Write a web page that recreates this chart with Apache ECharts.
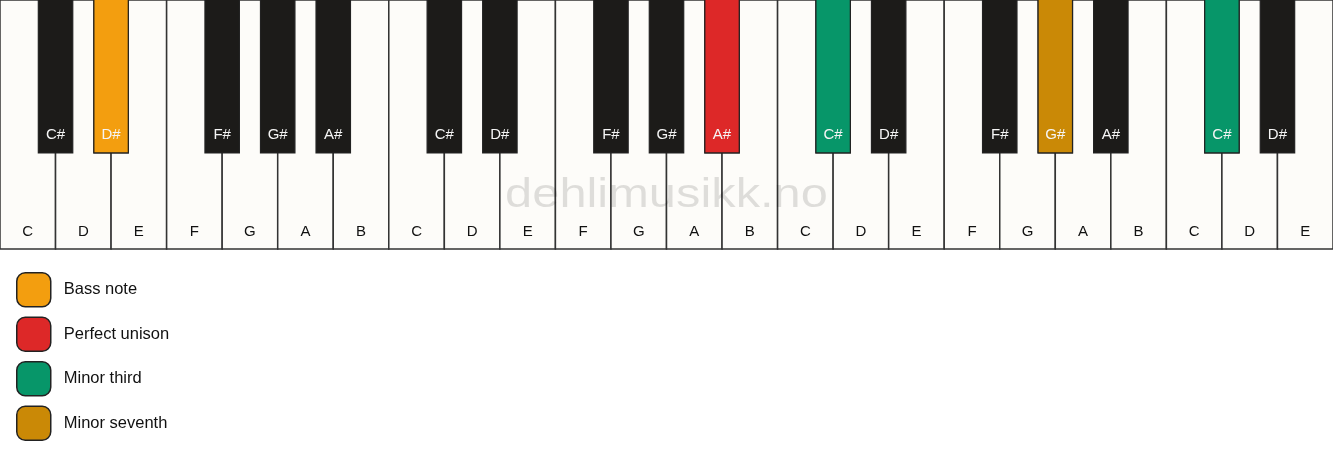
<!DOCTYPE html>
<html>
<head>
<meta charset="utf-8">
<script src="https://cdn.jsdelivr.net/npm/echarts@6/dist/echarts.min.js"></script>
<style>
  html, body { margin: 0; padding: 0; background: #ffffff; }
  #chart { width: 1333px; height: 461px; }
</style>
</head>
<body>
<div id="chart"></div>
<script>
// ---- data ----
const whiteNotes = ['C','D','E','F','G','A','B','C','D','E','F','G','A','B','C','D','E','F','G','A','B','C','D','E'];
const legendNames = ['Bass note', 'Perfect unison', 'Minor third', 'Minor seventh'];
// highlighted black keys: note name + octave number (0 = first octave on the keyboard)
const bassNoteKeys = ['D#0'];
const perfectUnisonKeys = ['A#1'];
const minorThirdKeys = ['C#2', 'C#3'];
const minorSeventhKeys = ['G#2'];
const watermark = 'dehlimusikk.no';

// derive black keys from white keys (a sharp follows every white key except E and B)
const blackKeys = [];
whiteNotes.forEach(function (n, i) {
  if (i < whiteNotes.length - 1 && n !== 'E' && n !== 'B') {
    blackKeys.push({ x: i + 1, note: n + '#', id: n + '#' + Math.floor(i / 7) });
  }
});

// ---- styles ----
const WHITE_FILL = '#fdfcf9';
const LINE = '#333333';
const BLACK_FILL = '#1c1b19';
const COLORS = ['#f39e0f', '#dd2828', '#079669', '#ca8906'];
const BLACK_W = 0.62;     // in white-key units
const BLACK_LEN = 0.614;  // fraction of key height
const FONT = '15px "Liberation Sans", Arial, sans-serif';

function whiteRender(params, api) {
  const i = api.value(0);
  const p0 = api.coord([i, 0]);
  const p1 = api.coord([i + 1, 1]);
  const pl = api.coord([i + 0.5, 0.93]);
  return {
    type: 'group',
    children: [
      { type: 'rect', shape: { x: p0[0], y: p0[1], width: p1[0] - p0[0], height: p1[1] - p0[1] },
        style: { fill: WHITE_FILL, stroke: LINE, lineWidth: 1.5 } },
      { type: 'text', style: { text: whiteNotes[params.dataIndex], x: pl[0], y: pl[1], fill: '#111',
        font: FONT, align: 'center', verticalAlign: 'middle' } }
    ]
  };
}

function blackRenderer(fill, keys) {
  return function (params, api) {
    const x = api.value(0);
    const p0 = api.coord([x - BLACK_W / 2, 0]);
    const p1 = api.coord([x + BLACK_W / 2, BLACK_LEN]);
    const pl = api.coord([x, 0.54]);
    return {
      type: 'group',
      children: [
        { type: 'rect', shape: { x: p0[0], y: p0[1] - 1, width: p1[0] - p0[0], height: p1[1] - p0[1] + 1 },
          style: { fill: fill, stroke: '#222', lineWidth: 1.2 } },
        { type: 'text', style: { text: keys[params.dataIndex].note, x: pl[0], y: pl[1], fill: '#f5f5f5',
          font: FONT, align: 'center', verticalAlign: 'middle' } }
      ]
    };
  };
}

function keysFor(ids) {
  return blackKeys.filter(function (k) { return ids.indexOf(k.id) >= 0; });
}

const highlightGroups = [bassNoteKeys, perfectUnisonKeys, minorThirdKeys, minorSeventhKeys];

const series = [
  { type: 'custom', name: 'white', renderItem: whiteRender, z: 1,
    data: whiteNotes.map(function (n, i) { return [i, 0]; }), silent: true },
  { type: 'custom', name: 'black', renderItem: blackRenderer(BLACK_FILL, blackKeys), z: 2, silent: true,
    data: blackKeys.map(function (k) { return [k.x, 0]; }) }
];
highlightGroups.forEach(function (ids, gi) {
  const keys = keysFor(ids);
  series.push({
    type: 'custom', name: legendNames[gi], renderItem: blackRenderer(COLORS[gi], keys), z: 3, silent: true,
    itemStyle: { color: COLORS[gi], borderColor: '#222', borderWidth: 1.5 },
    data: keys.map(function (k) { return [k.x, 0]; })
  });
});

const chart = echarts.init(document.getElementById('chart'), null, { renderer: 'canvas' });
chart.setOption({
  animation: false,
  backgroundColor: '#ffffff',
  grid: { left: 0, right: 0, top: 0, height: 249 },
  xAxis: { type: 'value', min: 0, max: whiteNotes.length, show: false },
  yAxis: { type: 'value', min: 0, max: 1, inverse: true, show: false },
  legend: {
    data: legendNames,
    orient: 'vertical',
    left: 16, top: 272, padding: 0,
    itemWidth: 34, itemHeight: 34, itemGap: 9,
    icon: 'roundRect',
    itemStyle: { borderColor: '#222', borderWidth: 1.5 },
    textStyle: { fontSize: 16.5, color: '#111', fontFamily: '"Liberation Sans", Arial, sans-serif', padding: [5, 0, 0, 8] },
    selectedMode: false
  },
  graphic: [{
    type: 'text', z: 100, silent: true,
    x: 666.5, y: 196, scaleX: 1.22, originX: 0, originY: 0,
    style: { text: watermark, font: '40px "Liberation Sans", Arial, sans-serif', fill: 'rgba(0,0,0,0.12)',
      align: 'center', verticalAlign: 'middle' }
  }],
  series: series
});
</script>
</body>
</html>
